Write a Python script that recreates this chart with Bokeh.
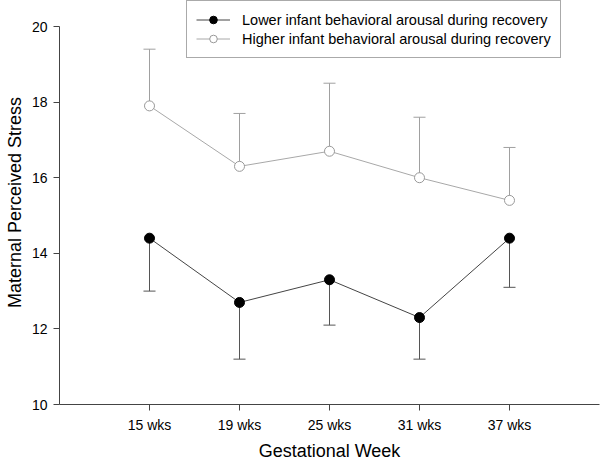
from bokeh.plotting import figure
from bokeh.models import Range1d, FixedTicker, Legend, LegendItem, ColumnDataSource
from bokeh.embed import file_html
from bokeh.resources import INLINE

weeks = ["15 wks", "19 wks", "25 wks", "31 wks", "37 wks"]
lower_mean = [14.4, 12.7, 13.3, 12.3, 14.4]
lower_se = [1.4, 1.5, 1.2, 1.1, 1.3]
higher_mean = [17.9, 16.3, 16.7, 16.0, 15.4]
higher_se = [1.5, 1.4, 1.8, 1.6, 1.4]
y_ticks = [10, 12, 14, 16, 18, 20]

xs = [i + 1 for i in range(len(weeks))]
CAP = 0.067
FONT = "Liberation Sans"

p = figure(width=600, height=463, output_backend="svg", toolbar_location=None,
           x_range=Range1d(0, 6), y_range=Range1d(10, 20.688),
           min_border_left=59, min_border_right=1, min_border_top=0, min_border_bottom=59)
p.outline_line_color = None
p.grid.visible = False
p.background_fill_color = "white"
p.border_fill_color = "white"

# error bars
low_end = [m - s for m, s in zip(lower_mean, lower_se)]
high_end = [m + s for m, s in zip(higher_mean, higher_se)]
err = ColumnDataSource(dict(x=xs, x0=[x - CAP for x in xs], x1=[x + CAP for x in xs],
                            lm=lower_mean, le=low_end, hm=higher_mean, he=high_end))
p.segment(x0="x", y0="lm", x1="x", y1="le", source=err, line_color="#555555", line_width=1)
p.segment(x0="x0", y0="le", x1="x1", y1="le", source=err, line_color="#555555", line_width=1)
p.segment(x0="x", y0="hm", x1="x", y1="he", source=err, line_color="#a0a0a0", line_width=1)
p.segment(x0="x0", y0="he", x1="x1", y1="he", source=err, line_color="#a0a0a0", line_width=1)

l1 = p.line(xs, lower_mean, line_color="#444444", line_width=1)
s1 = p.scatter(xs, lower_mean, size=10, marker="circle", fill_color="black", line_color="black")
l2 = p.line(xs, higher_mean, line_color="#a8a8a8", line_width=1)
s2 = p.scatter(xs, higher_mean, size=10, marker="circle", fill_color="white", line_color="#999999")

legend = Legend(items=[
    LegendItem(label="Lower infant behavioral arousal during recovery", renderers=[l1, s1]),
    LegendItem(label="Higher infant behavioral arousal during recovery", renderers=[l2, s2]),
], location=(127, 346))
legend.padding = 9
legend.spacing = 0
legend.margin = 0
legend.label_height = 19
legend.glyph_height = 19
legend.glyph_width = 34
legend.label_standoff = 12
legend.label_text_font = FONT
legend.label_text_font_size = "14.5px"
legend.label_text_color = "black"
legend.border_line_color = "#555555"
legend.border_line_width = 1
legend.background_fill_alpha = 1
p.add_layout(legend, "center")

# x axis
xa = p.xaxis[0]
xa.ticker = FixedTicker(ticks=xs)
xa.major_label_overrides = {x: w for x, w in zip(xs, weeks)}
xa.axis_label = "Gestational Week"
xa.axis_label_text_font = FONT
xa.axis_label_text_font_size = "18px"
xa.axis_label_text_font_style = "normal"
xa.axis_label_text_color = "black"
xa.axis_label_standoff = 5
xa.major_label_text_font = FONT
xa.major_label_text_font_size = "14px"
xa.major_label_text_color = "black"
xa.major_label_standoff = 6
xa.major_tick_out = 6
xa.major_tick_in = 0
xa.minor_tick_line_color = None
xa.axis_line_color = "#444444"
xa.major_tick_line_color = "#444444"

# y axis
ya = p.yaxis[0]
ya.ticker = FixedTicker(ticks=y_ticks)
ya.bounds = (10, 20)
ya.axis_label = "Maternal Perceived Stress"
ya.axis_label_text_font = FONT
ya.axis_label_text_font_size = "18px"
ya.axis_label_text_font_style = "normal"
ya.axis_label_text_color = "black"
ya.axis_label_standoff = 4
ya.major_label_text_font = FONT
ya.major_label_text_font_size = "14px"
ya.major_label_text_color = "black"
ya.major_label_standoff = 6
ya.major_tick_out = 6
ya.major_tick_in = 0
ya.minor_tick_line_color = None
ya.axis_line_color = "#444444"
ya.major_tick_line_color = "#444444"

open("out.html", "w").write(file_html(p, INLINE))
